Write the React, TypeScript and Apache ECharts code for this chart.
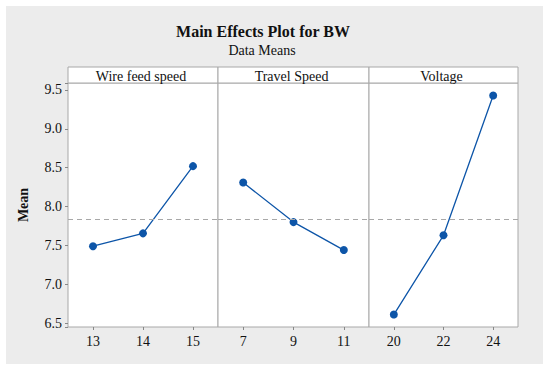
import React, { useEffect, useRef } from "react";
import * as echarts from "echarts";

const factors = ["Wire feed speed", "Travel Speed", "Voltage"];
const levels = [
  ["13", "14", "15"],
  ["7", "9", "11"],
  ["20", "22", "24"],
];
const means = [
  [7.49, 7.655, 8.52],
  [8.31, 7.8, 7.44],
  [6.61, 7.63, 9.43],
];
const overallMean = 7.845;
const yTickLabels = ["6.5", "7.0", "7.5", "8.0", "8.5", "9.0", "9.5"];

const FONT = "Liberation Serif";
const BORDER = "#a8a8a8";
const BLUE = "#0d55a8";

export default function App() {
  const ref = useRef<HTMLDivElement>(null);
  useEffect(() => {
    if (!ref.current) return;
    const chart = echarts.init(ref.current, undefined, { renderer: "svg" });
    const lefts = [68, 218, 369];
    const widths = [150, 151, 149];
    const top = 83;
    const height = 244;
    const stripTop = 67;

    const grids = lefts.map((l, i) => ({
      left: l,
      top,
      width: widths[i],
      height,
      show: true,
      backgroundColor: "#fff",
      borderColor: BORDER,
      borderWidth: 1,
    }));

    const xAxes = levels.map((lv, i) => ({
      type: "category",
      gridIndex: i,
      data: lv,
      boundaryGap: true,
      axisLine: { show: false },
      axisTick: { show: true, alignWithLabel: true, length: 3, lineStyle: { color: "#888" } },
      axisLabel: { fontFamily: FONT, fontSize: 14, color: "#111", margin: 7 },
      splitLine: { show: false },
    }));

    const yAxes = levels.map((_, i) => ({
      type: "value",
      gridIndex: i,
      min: 6.45,
      max: 9.59,
      splitNumber: 6,
      minInterval: 0.5,
      maxInterval: 0.5,
      name: i === 0 ? "Mean" : "",
      nameLocation: "middle",
      nameRotate: 90,
      nameGap: 38,
      nameTextStyle: { fontFamily: FONT, fontSize: 14, fontWeight: "bold", color: "#111" },
      axisLine: { show: false },
      axisTick: { show: i === 0, length: 3, lineStyle: { color: "#888" } },
      axisLabel: {
        show: i === 0,
        fontFamily: FONT,
        fontSize: 14,
        color: "#111",
        margin: 6,
        formatter: (v: number) => {
          const s = v.toFixed(1);
          return yTickLabels.includes(s) && Math.abs(v - parseFloat(s)) < 1e-6 ? s : "";
        },
      },
      splitLine: { show: false },
    }));

    const series = means.map((m, i) => ({
      type: "line",
      xAxisIndex: i,
      yAxisIndex: i,
      data: m,
      symbol: "circle",
      symbolSize: 8,
      lineStyle: { color: BLUE, width: 1.3 },
      itemStyle: { color: BLUE },
      markLine: {
        silent: true,
        symbol: "none",
        label: { show: false },
        lineStyle: { color: "#a8a8a8", type: [5, 4], width: 1 },
        data: [{ yAxis: overallMean }],
      },
    }));

    const txt = (text: string, x: number, y: number, size: number, weight = "normal") => ({
      type: "text",
      x,
      y,
      style: {
        text,
        fontFamily: FONT,
        fontSize: size,
        fontWeight: weight,
        fill: "#111",
        textAlign: "center",
        textVerticalAlign: "middle",
      },
    });

    const graphic: any[] = [
      {
        type: "rect",
        z: -10,
        shape: { x: 6, y: 6, width: 537, height: 358 },
        style: { fill: "#ececec" },
      },
      txt("Main Effects Plot for BW", 263, 31, 16, "bold"),
      txt("Data Means", 262, 50, 14),
    ];
    factors.forEach((f, i) => {
      graphic.push({
        type: "rect",
        shape: { x: lefts[i], y: stripTop, width: widths[i], height: top - stripTop },
        style: { fill: "#fff", stroke: BORDER, lineWidth: 1 },
      });
      graphic.push(txt(f, lefts[i] + widths[i] / 2 - 2, stripTop + (top - stripTop) / 2 + 1, 14));
    });

    chart.setOption({
      animation: false,
      backgroundColor: "#fff",
      grid: grids,
      xAxis: xAxes,
      yAxis: yAxes,
      series,
      graphic,
    });
    return () => chart.dispose();
  }, []);
  return (
    <div
      ref={ref}
      style={{ position: "fixed", left: 0, top: 0, width: 550, height: 372 }}
    />
  );
}
